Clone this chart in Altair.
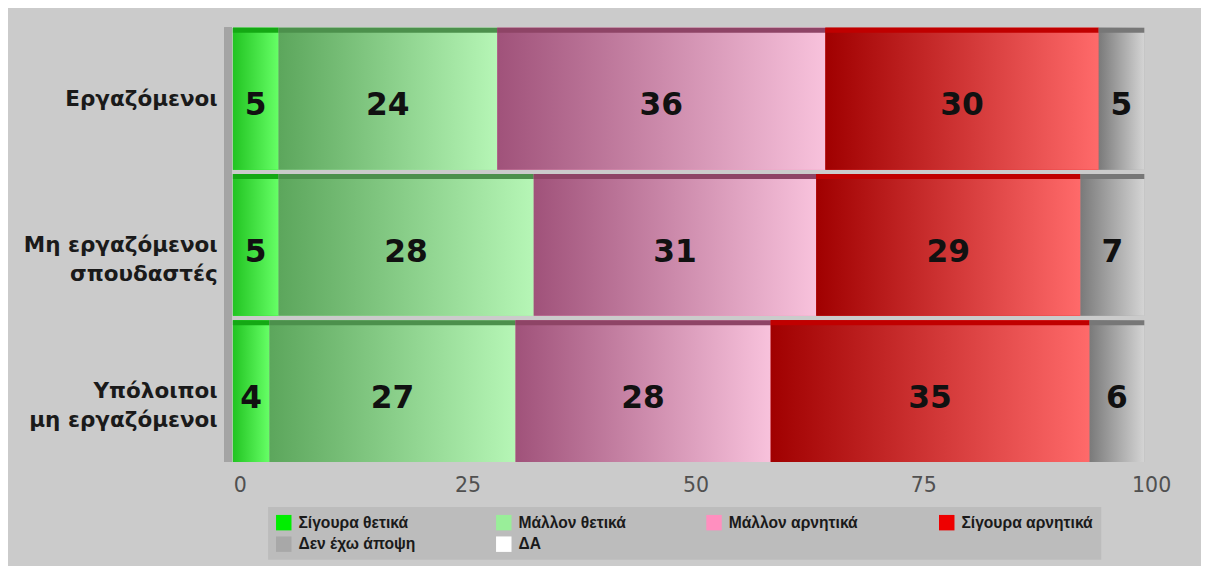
import altair as alt
import pandas as pd

categories = ["Εργαζόμενοι", "Μη εργαζόμενοι|σπουδαστές", "Υπόλοιποι|μη εργαζόμενοι"]
series = ["Σίγουρα θετικά", "Μάλλον θετικά", "Μάλλον αρνητικά", "Σίγουρα αρνητικά", "Δεν έχω άποψη", "ΔΑ"]
values = {
    "Σίγουρα θετικά": [5, 5, 4],
    "Μάλλον θετικά": [24, 28, 27],
    "Μάλλον αρνητικά": [36, 31, 28],
    "Σίγουρα αρνητικά": [30, 29, 35],
    "Δεν έχω άποψη": [5, 7, 6],
    "ΔΑ": [0, 0, 0],
}
x_ticks = [0, 25, 50, 75, 100]

legend_colors = ["#00ee00", "#99ee99", "#ff8fbf", "#ee0000", "#a8a8a8", "#ffffff"]
gradients = {
    "Σίγουρα θετικά": ("#22c422", "#66ff66", "#14a814"),
    "Μάλλον θετικά": ("#5ca65c", "#b6f6b6", "#4c904c"),
    "Μάλλον αρνητικά": ("#a0527a", "#f8c2dc", "#8e4466"),
    "Σίγουρα αρνητικά": ("#a00000", "#ff6a6a", "#c00000"),
    "Δεν έχω άποψη": ("#7a7a7a", "#d4d4d4", "#777777"),
}

rows = []
for ci, cat in enumerate(categories):
    acc = 0
    for s in series:
        v = values[s][ci]
        if v > 0:
            rows.append({"cat": cat, "series": s, "value": v,
                         "start": acc, "end": acc + v, "mid": acc + v / 2})
        acc += v
df = pd.DataFrame(rows)

y_enc = alt.Y("cat:N", sort=categories, title=None,
              scale=alt.Scale(paddingInner=0.03, paddingOuter=0),
              axis=alt.Axis(labelExpr="split(datum.label, '|')", labelFont="DejaVu Sans",
                            labelFontWeight="bold", labelFontSize=22, labelColor="#1a1a1a",
                            labelLineHeight=30, labelPadding=16, ticks=False, domain=False,
                            minExtent=222, maxExtent=222, labelLimit=230))
x_enc = alt.X("start:Q", title=None,
              scale=alt.Scale(domain=[0, 100], nice=False),
              axis=alt.Axis(values=x_ticks, grid=False, ticks=False, domain=False,
                            labelFont="DejaVu Sans",
                            labelFontSize=21, labelColor="#505050", labelPadding=13,
                            labelFlush=False, labelOffset=7))

base = alt.Chart(df).mark_bar().encode(
    y=y_enc, x=x_enc, x2="end:Q",
    color=alt.Color("series:N", scale=alt.Scale(domain=series, range=legend_colors),
                    legend=alt.Legend(orient="none", legendX=36, legendY=490,
                                      direction="horizontal", columns=4, title=None,
                                      fillColor="#bcbcbc", padding=8,
                                      symbolType="square", symbolSize=250, symbolStrokeWidth=0,
                                      labelFont="Liberation Sans Narrow, Liberation Sans, sans-serif",
                                      labelFontWeight="bold", labelFontSize=16, labelColor="#1a1a1a",
                                      labelOffset=7,
                                      columnPadding=82, rowPadding=6, labelLimit=300)),
)

layers = [base]
for s, (c0, c1, top) in gradients.items():
    grad = alt.LinearGradient(gradient="linear",
                              stops=[alt.GradientStop(color=c0, offset=0),
                                     alt.GradientStop(color=c1, offset=1)],
                              x1=0, x2=1, y1=0, y2=0)
    layers.append(
        alt.Chart(df).transform_filter(alt.datum.series == s)
        .mark_bar(fill=grad)
        .encode(y=alt.Y("cat:N", sort=categories), x="start:Q", x2="end:Q")
    )
    layers.append(
        alt.Chart(df).transform_filter(alt.datum.series == s)
        .mark_rule(color=top, strokeWidth=5, yOffset=2.5)
        .encode(y=alt.Y("cat:N", sort=categories, bandPosition=0), x="start:Q", x2="end:Q")
    )

wall = alt.Chart(df).mark_rule(color="#a4a4a4", strokeWidth=8, xOffset=-5).encode(
    x=alt.datum(0)
)

text = alt.Chart(df).mark_text(font="DejaVu Sans", fontWeight="bold", fontSize=32,
                               color="#111111", dy=7).encode(
    y=alt.Y("cat:N", sort=categories), x="mid:Q", text="value:Q"
)

chart = alt.layer(wall, *layers, text).properties(
    width=932, height=444,
    background="#cbcbcb",
    padding={"left": 8, "top": 10, "right": 30, "bottom": 0},
).configure_view(stroke=None)

chart.save("out.html", embed_options={"renderer": "svg", "actions": False})
